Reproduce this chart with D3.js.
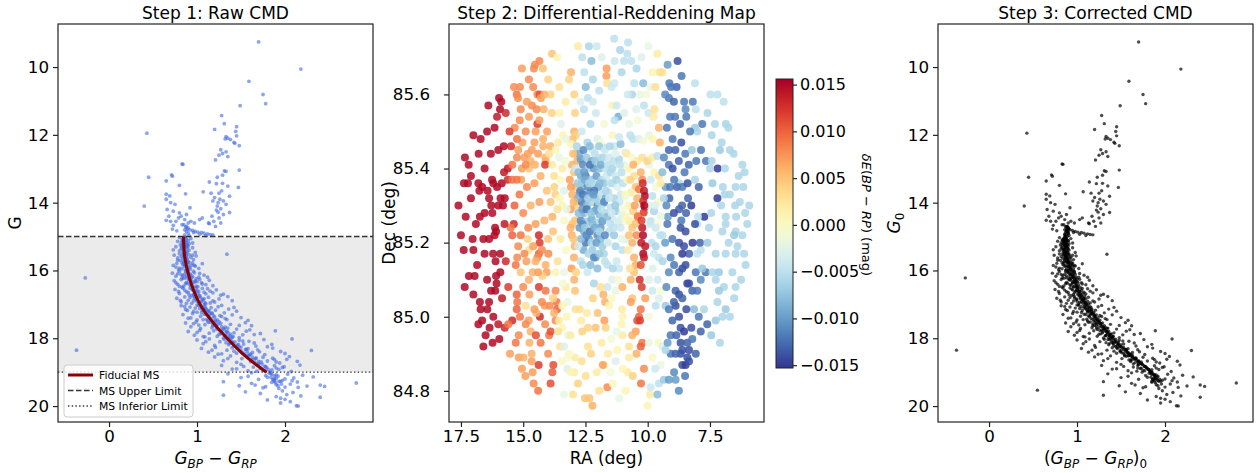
<!DOCTYPE html>
<html>
<head>
<meta charset="utf-8">
<script src="https://cdn.jsdelivr.net/npm/d3@7"></script>
<style>
body { margin: 0; background: #fff; }
text { font-family: "DejaVu Sans", sans-serif; }
</style>
</head>
<body>
<svg id="fig" width="1258" height="473"></svg>
<script>
// ---- data ----

// giants, subgiants, turnoff and odd outliers: [BP-RP, G]
var upperStars = [
	[1.70,9.26],[2.18,10.06],[1.59,10.42],[1.75,10.81],[1.78,11.08],[1.49,11.14],[1.28,11.43],[1.31,11.67],[1.45,11.76],[1.20,11.84],[1.44,11.90],[1.45,12.03],[1.33,12.05],[1.35,12.10],[1.32,12.12],[1.38,12.14],[1.42,12.22],[1.43,12.25],[1.48,12.32],
	[0.43,11.95],[0.45,13.25],[0.40,14.10],[0.83,12.86],[0.84,12.87],[0.71,13.18],[0.72,13.22],[0.65,13.36],[0.80,13.49],[0.87,13.74],[1.07,13.68],[1.14,13.39],
	[1.21,12.74],[1.25,12.60],[1.27,12.44],[1.29,12.55],[1.33,12.50],[1.35,12.64],[1.31,13.06],[1.33,13.08],[1.48,13.04],[1.47,13.55],[1.35,13.51],[1.29,13.19],[1.23,13.25],[1.22,13.44],[1.29,13.43],[1.28,13.65],[1.37,13.81],[1.37,14.29],[1.25,13.72],[1.26,13.90],[1.24,14.00],[1.23,14.10],[1.27,14.18],[1.22,14.22],[1.30,14.35],[1.25,14.45],[1.19,14.55],[1.27,14.60],[1.21,14.70],[1.33,14.05],[1.20,13.85],[1.30,13.95],[1.16,13.72],[1.18,13.95],[1.24,14.28],[1.17,14.40],[1.14,14.62],
	[0.65,13.75],[0.69,13.80],[0.65,13.90],[0.70,14.00],[0.75,14.05],[0.66,14.20],[0.73,14.25],[0.80,14.30],[0.79,14.45],[0.65,14.52],[0.70,14.55],[0.73,14.67],[0.83,14.65],[0.88,14.35],[0.92,14.15],[1.03,14.50],[0.97,14.60],[1.06,14.45],[1.13,14.60],[0.72,14.78],[0.77,14.83],[0.82,14.40],[0.76,14.55],[0.68,14.40],
	[0.87,14.72],[0.89,14.78],[0.92,14.80],[0.95,14.82],[0.98,14.85],[1.01,14.87],[1.05,14.88],[1.08,14.90],[1.12,14.92],[1.15,14.94],[1.18,14.95],[0.88,14.85],[0.90,14.90],[0.86,14.80],[0.88,14.70],[0.90,14.75],[0.86,14.95],[0.91,14.97],[0.85,14.65],[0.90,14.60],[0.93,14.55],[0.86,14.50],[1.10,14.97],[1.03,14.93],[0.96,14.88],
	[-0.27,16.22],[-0.37,18.35],[2.81,19.32],[0.55,19.53]
];

// main sequence, raw photometry: [BP-RP, G]
var msRaw = [
	[0.80,15.03],[0.83,15.10],[0.85,15.05],[0.86,15.15],[0.88,15.08],[0.84,15.20],[0.87,15.22],[0.90,15.12],[0.82,15.18],[0.86,15.02],[0.89,15.24],[0.93,15.06],[0.78,15.14],[0.95,15.19],[0.84,15.12],[0.87,15.04],
	[0.76,15.30],[0.80,15.42],[0.83,15.27],[0.85,15.36],[0.87,15.46],[0.88,15.31],[0.91,15.40],[0.84,15.48],[0.86,15.26],[0.82,15.35],[0.95,15.33],[0.89,15.44],[0.73,15.39],[0.98,15.47],[0.86,15.38],[0.90,15.28],
	[0.74,15.55],[0.78,15.63],[0.81,15.70],[0.84,15.52],[0.86,15.66],[0.88,15.58],[0.90,15.73],[0.93,15.61],[0.85,15.74],[0.87,15.54],[0.82,15.59],[0.96,15.68],[0.99,15.57],[0.89,15.65],[0.80,15.51],[0.91,15.53],[1.34,15.52],
	[0.73,15.85],[0.77,15.79],[0.80,15.93],[0.83,15.77],[0.86,15.88],[0.88,15.96],[0.90,15.82],[0.92,15.91],[0.95,15.78],[0.98,15.87],[0.87,15.99],[0.85,15.81],[0.91,15.76],[1.02,15.94],[0.79,15.98],[0.94,15.84],[1.06,15.80],
	[0.72,16.08],[0.76,16.17],[0.80,16.03],[0.83,16.22],[0.86,16.11],[0.89,16.05],[0.91,16.19],[0.93,16.13],[0.96,16.02],[0.99,16.24],[1.03,16.09],[0.88,16.16],[0.94,16.21],[1.08,16.14],[0.82,16.12],[0.97,16.07],[1.12,16.20],[0.90,16.01],[0.85,16.23],
	[0.74,16.30],[0.78,16.41],[0.82,16.27],[0.85,16.46],[0.88,16.35],[0.91,16.28],[0.93,16.44],[0.95,16.38],[0.98,16.31],[1.01,16.48],[1.05,16.36],[1.10,16.42],[0.92,16.26],[0.96,16.49],[1.14,16.29],[0.87,16.39],[1.00,16.33],[1.18,16.45],[0.80,16.47],[1.03,16.26],
	[0.75,16.56],[0.80,16.68],[0.84,16.52],[0.88,16.63],[0.91,16.72],[0.94,16.55],[0.97,16.66],[1.00,16.59],[1.03,16.74],[1.06,16.53],[1.10,16.69],[1.15,16.61],[1.22,16.57],[0.96,16.71],[0.99,16.51],[1.08,16.64],[1.30,16.70],[0.86,16.58],[1.02,16.62],[1.12,16.54],
	[0.77,16.82],[0.82,16.93],[0.86,16.78],[0.90,16.88],[0.94,16.97],[0.97,16.81],[1.00,16.91],[1.03,16.76],[1.06,16.86],[1.09,16.95],[1.13,16.79],[1.18,16.90],[1.25,16.84],[1.35,16.77],[1.02,16.99],[0.99,16.85],[1.15,16.96],[0.92,16.80],[1.05,16.92],[1.40,16.89],[1.08,16.83],
	[0.82,17.04],[0.87,17.15],[0.92,17.08],[0.96,17.21],[1.00,17.02],[1.03,17.12],[1.06,17.18],[1.09,17.06],[1.12,17.23],[1.16,17.10],[1.21,17.17],[1.28,17.03],[1.36,17.14],[1.05,17.24],[1.08,17.01],[1.13,17.19],[0.98,17.11],[1.45,17.20],[1.10,17.13],[1.24,17.07],
	[0.84,17.30],[0.90,17.41],[0.95,17.27],[1.00,17.46],[1.04,17.35],[1.08,17.29],[1.11,17.44],[1.14,17.37],[1.17,17.26],[1.21,17.48],[1.26,17.33],[1.32,17.42],[1.40,17.31],[1.50,17.39],[1.12,17.49],[1.15,17.28],[1.07,17.45],[1.19,17.34],[1.58,17.47],[1.28,17.36],
	[0.87,17.55],[0.93,17.66],[0.99,17.52],[1.04,17.71],[1.09,17.60],[1.13,17.53],[1.17,17.69],[1.20,17.62],[1.23,17.74],[1.27,17.56],[1.32,17.67],[1.38,17.59],[1.45,17.73],[1.55,17.54],[1.22,17.64],[1.25,17.51],[1.18,17.58],[1.30,17.72],[1.62,17.63],[1.02,17.61],[1.35,17.70],
	[0.90,17.80],[0.97,17.91],[1.03,17.77],[1.09,17.96],[1.14,17.85],[1.19,17.78],[1.23,17.94],[1.27,17.87],[1.30,17.99],[1.33,17.81],[1.37,17.92],[1.42,17.84],[1.48,17.98],[1.56,17.79],[1.65,17.89],[1.32,17.93],[1.28,17.76],[1.35,17.83],[1.89,17.78],[1.25,17.88],[1.40,17.97],[1.72,17.86],
	[1.00,18.05],[1.07,18.16],[1.14,18.02],[1.20,18.21],[1.26,18.10],[1.31,18.03],[1.36,18.19],[1.40,18.12],[1.44,18.24],[1.48,18.06],[1.53,18.17],[1.59,18.09],[1.67,18.23],[1.76,18.04],[1.41,18.14],[1.38,18.01],[1.46,18.20],[2.08,18.02],[1.33,18.13],[1.52,18.08],[1.85,18.18],
	[1.05,18.30],[1.13,18.41],[1.21,18.27],[1.28,18.46],[1.34,18.35],[1.40,18.28],[1.45,18.44],[1.50,18.37],[1.54,18.49],[1.58,18.31],[1.63,18.42],[1.69,18.34],[1.77,18.48],[1.86,18.29],[1.95,18.39],[1.51,18.43],[1.48,18.26],[1.56,18.33],[2.30,18.36],[1.42,18.38],[1.61,18.47],[2.00,18.45],
	[1.20,18.55],[1.30,18.66],[1.38,18.52],[1.45,18.71],[1.51,18.60],[1.56,18.53],[1.61,18.69],[1.65,18.62],[1.70,18.74],[1.75,18.56],[1.80,18.67],[1.86,18.59],[1.94,18.73],[2.05,18.54],[1.62,18.64],[1.58,18.51],[1.67,18.58],[1.73,18.70],[1.88,18.63],[2.14,18.68],
	[1.28,18.80],[1.40,18.91],[1.50,18.77],[1.58,18.96],[1.64,18.85],[1.70,18.78],[1.75,18.94],[1.79,18.87],[1.83,18.99],[1.88,18.81],[1.93,18.92],[1.99,18.84],[2.07,18.98],[2.17,18.79],[1.72,18.89],[1.77,18.83],[1.85,18.93],[1.90,18.88],[1.68,18.97],
	[1.35,19.05],[1.50,19.16],[1.62,19.02],[1.70,19.21],[1.78,19.10],[1.84,19.03],[1.88,19.19],[1.92,19.12],[1.97,19.24],[2.03,19.06],[2.10,19.17],[2.20,19.09],[2.32,19.14],[1.86,19.22],[1.90,19.08],[1.80,19.15],[2.00,19.20],
	[1.30,19.28],[1.48,19.40],[1.62,19.33],[1.75,19.46],[1.85,19.30],[1.90,19.37],[1.95,19.27],[2.00,19.44],[2.06,19.35],[2.14,19.29],[2.25,19.41],[2.40,19.38],[2.45,19.42],[1.88,19.26],[1.93,19.48],
	[1.30,19.68],[1.55,19.58],[1.72,19.63],[1.90,19.72],[1.97,19.55],[2.02,19.66],[2.09,19.60],[2.18,19.70],[2.40,19.74],[1.95,19.77],
	[1.80,19.82],[1.95,19.91],[2.00,19.80],[2.06,19.87],[2.13,19.99],[2.15,20.00]
];

// more main-sequence stars from the crowded part of the band: [BP-RP, G]
var msRawCrowd = [
	[0.84,15.09],[0.86,15.13],[0.88,15.17],[0.85,15.23],[0.87,15.29],[0.89,15.34],[0.84,15.41],[0.86,15.45],[0.88,15.49],[0.83,15.33],[0.91,15.21],[0.81,15.25],
	[0.85,15.56],[0.87,15.60],[0.84,15.64],[0.88,15.69],[0.86,15.72],[0.89,15.76],[0.84,15.83],[0.87,15.86],[0.90,15.90],[0.83,15.95],[0.92,15.97],[0.78,15.70],[0.76,15.90],[0.95,15.55],[0.97,15.85],
	[0.87,16.03],[0.90,16.07],[0.92,16.10],[0.84,16.15],[0.95,16.18],[0.88,16.22],[0.91,16.26],[0.94,16.31],[0.97,16.34],[0.89,16.38],[0.92,16.42],[0.99,16.46],[0.78,16.10],[0.76,16.36],[1.02,16.20],[1.06,16.40],[0.83,16.49],
	[0.92,16.52],[0.95,16.58],[0.98,16.61],[0.90,16.65],[1.01,16.68],[0.94,16.74],[0.97,16.77],[1.04,16.80],[1.00,16.84],[1.07,16.87],[0.96,16.90],[1.03,16.94],[1.10,16.98],[0.79,16.62],[0.81,16.88],[1.18,16.66],[1.20,16.93],[1.27,16.73],[0.88,16.97],
	[1.02,17.03],[1.05,17.07],[1.08,17.11],[1.11,17.15],[1.14,17.20],[1.00,17.23],[1.17,17.27],[1.10,17.30],[1.13,17.34],[1.20,17.38],[1.16,17.42],[1.23,17.46],[1.19,17.49],[0.89,17.18],[0.93,17.40],[1.31,17.25],[1.34,17.45],[1.42,17.09],[0.86,17.06],
	[1.15,17.52],[1.21,17.55],[1.24,17.59],[1.18,17.63],[1.28,17.66],[1.22,17.70],[1.31,17.73],[1.26,17.77],[1.34,17.80],[1.29,17.84],[1.38,17.88],[1.33,17.91],[1.41,17.95],[1.36,17.98],[0.96,17.57],[1.00,17.83],[1.48,17.62],[1.52,17.90],[1.60,17.75],[1.07,17.95],
	[1.35,18.04],[1.39,18.07],[1.43,18.11],[1.37,18.15],[1.47,18.18],[1.42,18.22],[1.50,18.26],[1.46,18.30],[1.55,18.33],[1.49,18.37],[1.57,18.41],[1.53,18.44],[1.60,18.48],[1.10,18.10],[1.17,18.35],[1.65,18.14],[1.71,18.40],[1.80,18.25],[1.24,18.47],
	[1.59,18.52],[1.63,18.56],[1.67,18.60],[1.61,18.64],[1.70,18.68],[1.66,18.72],[1.74,18.76],[1.69,18.80],[1.78,18.84],[1.73,18.88],[1.81,18.92],[1.77,18.96],[1.35,18.60],[1.45,18.90],[1.90,18.70],[1.97,18.86],[2.02,18.62],[1.53,18.83],
	[1.82,19.03],[1.85,19.07],[1.88,19.11],[1.84,19.15],[1.90,19.19],[1.87,19.23],[1.93,19.27],[1.89,19.31],[1.96,19.35],[1.92,19.40],[1.58,19.12],[1.66,19.38],[2.08,19.25],[2.15,19.45],[1.78,19.43]
];

// tight ridge of the corrected main sequence: [(BP-RP)0, G0]
var ridgeCorr = [
	[0.89,14.72],[0.90,14.76],[0.88,14.80],[0.89,14.84],[0.87,14.88],[0.90,14.91],[0.88,14.95],[0.87,14.98],[0.89,14.70],[0.91,14.78],[0.86,14.93],
	[0.87,15.02],[0.88,15.06],[0.86,15.10],[0.88,15.14],[0.87,15.18],[0.86,15.22],[0.88,15.26],[0.87,15.30],[0.89,15.34],[0.86,15.38],[0.88,15.42],[0.87,15.46],[0.89,15.49],
	[0.88,15.53],[0.87,15.57],[0.89,15.61],[0.89,15.65],[0.90,15.69],[0.89,15.73],[0.91,15.77],[0.91,15.81],[0.92,15.85],[0.91,15.89],[0.93,15.93],[0.93,15.97],
	[0.94,16.01],[0.93,16.05],[0.95,16.09],[0.95,16.13],[0.96,16.17],[0.96,16.21],[0.97,16.25],[0.97,16.29],[0.98,16.33],[0.98,16.37],[0.99,16.41],[0.99,16.45],[1.00,16.49],
	[1.01,16.53],[1.01,16.57],[1.03,16.61],[1.03,16.65],[1.04,16.69],[1.05,16.73],[1.06,16.77],[1.07,16.81],[1.07,16.85],[1.08,16.89],[1.09,16.93],[1.10,16.97],
	[1.11,17.01],[1.12,17.05],[1.13,17.09],[1.14,17.13],[1.16,17.17],[1.16,17.21],[1.18,17.25],[1.19,17.29],[1.20,17.33],[1.21,17.37],[1.21,17.41],[1.23,17.45],[1.24,17.49],
	[1.25,17.53],[1.27,17.57],[1.27,17.61],[1.29,17.65],[1.30,17.69],[1.32,17.73],[1.32,17.77],[1.34,17.81],[1.35,17.85],[1.37,17.89],[1.37,17.93],[1.39,17.97],
	[1.41,18.01],[1.42,18.05],[1.44,18.09],[1.45,18.13],[1.47,18.17],[1.48,18.21],[1.50,18.25],[1.52,18.29],[1.53,18.33],[1.55,18.37],[1.57,18.41],[1.58,18.45],[1.60,18.49],
	[1.62,18.53],[1.64,18.57],[1.66,18.61],[1.68,18.65],[1.69,18.69],[1.72,18.73],[1.74,18.77],[1.76,18.81],[1.78,18.85],[1.80,18.89],[1.82,18.93],[1.83,18.97],
	[1.85,19.01],[1.86,19.05],[1.88,19.09],[1.89,19.13],[1.88,19.18],[1.91,19.22],[1.86,19.20],[1.92,19.25],
	[0.90,14.74],[0.90,14.86],[0.89,15.00],[0.90,15.12],[0.89,15.24],[0.90,15.36],[0.90,15.48],
	[0.91,15.55],[0.92,15.63],[0.93,15.71],[0.94,15.79],[0.95,15.87],[0.96,15.95],
	[0.97,16.03],[0.98,16.11],[0.99,16.19],[1.00,16.27],[1.01,16.35],[1.02,16.43],
	[1.04,16.51],[1.05,16.59],[1.07,16.67],[1.09,16.75],[1.10,16.83],[1.12,16.91],[1.13,16.99],
	[1.15,17.07],[1.17,17.15],[1.19,17.23],[1.22,17.31],[1.24,17.39],[1.26,17.47],
	[1.29,17.55],[1.31,17.63],[1.34,17.71],[1.36,17.79],[1.39,17.87],[1.41,17.95],
	[1.44,18.03],[1.47,18.11],[1.50,18.19],[1.53,18.27],[1.56,18.35],[1.59,18.43],
	[1.63,18.51],[1.66,18.59],[1.70,18.67],[1.73,18.75],[1.77,18.83],[1.81,18.91],[1.85,18.99],
	[1.88,19.07],[1.91,19.15],[1.94,19.21],[1.85,19.27],
	[0.86,15.04],[0.85,15.16],[0.86,15.28],[0.85,15.40],[0.86,15.52],[0.87,15.64],[0.88,15.76],[0.89,15.88],[0.90,16.00],[0.92,16.12],[0.93,16.24],[0.95,16.36],[0.96,16.48],[0.99,16.60],[1.01,16.72],[1.04,16.84],[1.06,16.96],[1.09,17.08],[1.12,17.20],[1.15,17.32],[1.18,17.44],[1.22,17.56],[1.25,17.68],[1.29,17.80],[1.33,17.92],[1.37,18.04],[1.41,18.16],[1.45,18.28],[1.49,18.40],[1.54,18.52],[1.59,18.64],[1.64,18.76],[1.69,18.88],[1.74,19.00]
];

// fiducial main sequence: [BP-RP, G]
var fiducial = [[0.845,15.0],[0.86,15.6],[0.90,16.09],[0.96,16.58],[1.05,17.07],[1.19,17.56],[1.36,18.05],[1.56,18.55],[1.79,19.0]];

var msUpper = 15.0, msLower = 19.0;

// differential reddening map: [RA deg, Dec deg, dE(BP-RP) in mmag]
var mapPts = [
	[12.80,85.73,2],[12.36,85.73,-6],[10.79,85.74,-5],[11.11,85.72,-6],[10.82,85.71,-5],[9.97,85.73,-2],[9.61,85.71,2],[13.84,85.71,5],[13.63,85.70,1],[12.63,85.70,-5],[12.26,85.69,-8],[11.33,85.69,-4],[10.95,85.69,-5],[10.66,85.69,-5],[8.80,85.69,-14],[9.20,85.68,-10],[14.35,85.69,8],[14.53,85.68,8],[14.57,85.67,8],[15.05,85.67,7],[14.21,85.67,5],[11.65,85.67,7],[13.08,85.66,6],[9.52,85.66,3],[9.41,85.66,3],[8.64,85.65,-12],[14.77,85.64,8],[14.00,85.64,4],[13.16,85.64,4],[11.66,85.65,7],[11.63,85.63,3],[11.34,85.63,-4],[12.49,85.62,-8],[10.54,85.63,-5],[10.18,85.63,-8],[9.89,85.62,-2],[9.69,85.62,3],[9.13,85.63,-12],[8.84,85.62,-13],[8.10,85.63,-5],
	[15.37,85.62,8],[15.13,85.62,8],[15.26,85.60,9],[15.21,85.59,8],[15.97,85.59,15],[15.88,85.58,15],[15.93,85.56,15],[16.05,85.54,14],[14.43,85.60,8],[14.34,85.60,11],[14.29,85.59,7],[13.90,85.60,4],[14.65,85.57,8],[14.46,85.56,8],[14.18,85.56,6],[14.77,85.54,7],[15.14,85.53,8],[15.34,85.51,8],[14.43,85.52,12],[14.04,85.50,7],[14.55,85.47,7],[15.03,85.47,7],[15.20,85.45,7],[15.49,85.46,13],[15.78,85.46,15],[16.45,85.50,15],[17.00,85.49,15],[16.71,85.48,15],[16.79,85.44,15],[17.34,85.43,15],[17.19,85.41,15],[15.62,85.40,14],[15.44,85.41,9],[15.05,85.40,7],[15.08,85.37,7],[15.26,85.37,9],[14.81,85.44,7],[14.95,85.43,7],[14.71,85.42,6],[14.77,85.40,5],[14.53,85.41,6],[14.11,85.43,6],[14.10,85.42,6],[14.12,85.41,12],[13.91,85.46,6],[13.96,85.44,3],
	[13.54,85.55,1],[13.48,85.52,-3],[13.40,85.49,1],[12.92,85.55,4],[12.95,85.50,6],[12.89,85.49,4],[13.01,85.48,5],[12.92,85.44,6],[12.56,85.56,-5],[12.08,85.55,-4],[12.40,85.59,-5],[12.20,85.58,-4],[11.42,85.57,1],[11.25,85.57,-4],[11.18,85.54,-9],[11.33,85.53,-5],[10.75,85.52,-2],[10.40,85.53,-1],[10.46,85.56,-3],[10.15,85.57,-5],[9.97,85.55,-4],[10.31,85.60,-2],[10.63,85.60,-6],[9.77,85.54,2],[9.73,85.56,3],[9.55,85.51,6],[9.51,85.47,6],
	[9.23,85.51,-12],[9.10,85.54,-12],[8.90,85.54,-12],[9.15,85.59,-12],[9.06,85.62,-12],[8.54,85.58,-12],[8.19,85.58,-12],[8.45,85.54,-12],[8.48,85.56,-11],[8.07,85.56,-5],[7.81,85.52,-12],[8.10,85.51,-7],[8.01,85.50,-6],[7.43,85.49,-6],[7.03,85.47,-6],[6.86,85.52,-6],[6.76,85.51,-6],[6.70,85.45,-6],[7.48,85.60,-5],[9.15,85.45,-13],[8.89,85.45,-13],[8.49,85.44,-12],[8.23,85.45,-7],[7.86,85.45,-12],[7.66,85.42,-12],[7.43,85.42,-6],[7.19,85.40,-15],[9.15,85.41,-12],[8.52,85.39,-12],[8.74,85.36,-6],[8.10,85.37,-6],[8.94,85.37,-12],[9.28,85.35,-10],[9.10,85.35,-12],[8.82,85.35,-13],[8.61,85.35,-12],[9.13,85.32,-13],[8.38,85.32,-13],[8.25,85.30,-15],[8.62,85.30,-13],[8.74,85.29,-13],[8.46,85.28,-13],[9.19,85.27,-10],[8.65,85.26,-12],[7.73,85.27,-15],[7.20,85.32,-15],[6.98,85.35,-6],[6.91,85.33,-6],[6.47,85.35,-6],[6.16,85.35,-6],[6.20,85.41,-6],[6.11,85.39,-6],[6.49,85.30,-6],[6.09,85.28,-6],[5.92,85.30,-6],[6.87,85.27,-6],[6.45,85.27,-6],[7.98,85.27,-5],
	[17.38,85.36,15],[17.22,85.36,15],[16.80,85.36,15],[16.65,85.35,15],[16.76,85.34,15],[16.43,85.34,15],[16.25,85.37,15],[16.20,85.36,15],[16.05,85.35,15],[15.86,85.36,15],[16.37,85.32,15],[15.91,85.32,15],[15.74,85.32,15],[16.00,85.30,15],[15.81,85.30,15],[16.28,85.30,15],[16.24,85.28,15],[17.31,85.27,15],[16.74,85.27,15],[15.62,85.37,13],[15.44,85.37,9],[15.77,85.39,14],
	[13.70,85.45,1],[13.56,85.43,-2],[13.83,85.41,2],[13.43,85.40,2],[13.76,85.38,3],[13.50,85.37,0],[13.36,85.34,-3],[13.70,85.33,4],[13.90,85.31,5],[13.43,85.30,1],[13.63,85.29,3],[13.83,85.27,6],[13.36,85.26,0],
	[13.05,85.41,6],[12.96,85.39,5],[13.13,85.37,7],[12.89,85.35,5],[13.03,85.33,6],[12.85,85.30,4],[13.09,85.29,7],[12.92,85.26,5],[12.83,85.42,6],
	[12.69,85.425,-10],[12.46,85.43,-7],[12.25,85.42,-9],[12.02,85.43,-5],[11.80,85.43,-6],[12.60,85.41,-11],[12.38,85.40,-6],[12.16,85.40,-10],[11.93,85.40,-8],[11.71,85.40,-5],[12.68,85.38,-9],[12.49,85.38,-12],[12.28,85.37,-7],[12.06,85.38,-10],[11.85,85.37,-6],[11.66,85.38,-4],[12.63,85.36,-8],[12.42,85.35,-11],[12.20,85.36,-6],[11.98,85.35,-9],[11.76,85.36,-7],[12.73,85.335,-10],[12.52,85.33,-6],[12.30,85.335,-11],[12.09,85.32,-8],[11.88,85.33,-5],[11.69,85.32,-9],[12.65,85.31,-12],[12.44,85.30,-8],[12.22,85.31,-6],[12.01,85.30,-11],[11.80,85.305,-7],[12.56,85.28,-9],[12.36,85.28,-5],[12.14,85.285,-10],[11.93,85.275,-8],[11.71,85.28,-6],[12.69,85.26,-11],[12.46,85.257,-7],[12.25,85.263,-9],[12.04,85.254,-6],[11.82,85.258,-10],
	[11.55,85.43,-4],[11.35,85.42,-5],[11.15,85.425,-6],[10.95,85.41,-2],[11.49,85.39,-6],[11.29,85.38,-4],[11.05,85.39,-5],[11.42,85.36,-7],[11.22,85.35,-3],[10.99,85.36,-5],[11.58,85.335,-5],[11.35,85.32,-6],[11.13,85.31,-4],[10.91,85.326,-2],[11.49,85.295,-5],[11.29,85.285,-7],[11.05,85.276,-3],[11.42,85.263,-4],[11.15,85.254,-5],[10.95,85.258,-1],
	[10.75,85.40,1],[10.55,85.38,3],[10.82,85.37,0],[10.48,85.35,5],[10.68,85.335,2],[10.42,85.32,6],[10.78,85.30,1],[10.59,85.285,4],[10.38,85.272,7],[10.72,85.258,2],[10.48,85.251,5],[10.64,85.43,-1],[10.42,85.42,2],[10.28,85.39,6],[10.22,85.37,8],[10.35,85.344,9],
	[10.15,85.34,14],[10.11,85.326,15],[10.18,85.312,13],[10.12,85.296,15],[10.16,85.281,12],
	[9.95,85.41,-2],[9.75,85.39,1],[9.55,85.38,3],[9.88,85.37,-4],[9.68,85.35,-1],[9.48,85.36,2],[9.81,85.326,-5],[9.57,85.31,0],[9.97,85.30,-3],[9.75,85.285,-6],[9.48,85.272,-2],[9.88,85.258,-5],[9.61,85.25,-1],[9.41,85.39,-8],[9.35,85.32,-6],
	[12.42,85.47,-6],[12.02,85.48,-3],[11.76,85.457,-5],[11.33,85.46,-4],[11.09,85.466,-8],[10.89,85.443,-3],[10.59,85.48,-5],[10.35,85.48,-3],[10.18,85.475,-1],[9.95,85.49,-2],[9.81,85.48,1],[12.22,85.45,-4],[11.89,85.47,-1],[11.42,85.49,0],[11.15,85.485,-4],[10.22,85.43,3],[10.01,85.42,4],[9.81,85.43,2],[9.61,85.434,-5],[13.09,85.466,1],[13.29,85.48,-2],
	[17.39,85.18,15],[17.00,85.18,15],[17.03,85.21,15],[16.55,85.17,15],[16.21,85.17,15],[15.92,85.17,15],[16.15,85.22,15],[16.09,85.23,15],[16.13,85.24,15],[16.37,85.21,15],[16.11,85.15,15],[17.18,85.11,15],[16.95,85.11,15],[16.09,85.11,15],[15.92,85.12,15],[16.29,85.07,15],[16.12,85.07,15],[16.07,85.09,15],[17.00,85.06,15],[16.74,85.04,15],[16.37,85.04,15],[16.71,85.02,15],[16.44,85.02,15],[16.65,84.99,15],[16.00,84.98,14],[16.51,84.95,15],[15.96,84.94,15],[16.23,84.93,15],[15.44,84.99,13],[15.74,84.97,13],[15.38,85.25,13],[15.60,84.98,9],
	[15.50,85.24,9],[15.44,85.22,10],[15.20,85.19,8],[15.24,85.16,8],[14.87,85.15,7],[14.62,85.12,6],[14.77,85.10,6],[15.26,85.06,10],[15.24,85.04,9],[15.26,85.02,10],[15.13,85.00,9],[14.78,84.99,7],[14.70,84.96,6],[14.49,84.95,11],[15.18,84.95,8],[15.53,84.90,7],[15.18,84.89,7],[14.99,84.89,6],[14.66,84.90,6],[14.66,84.88,7],[14.91,84.84,7],[14.62,84.85,7],[14.58,84.82,8],[14.38,84.87,12],[13.83,84.85,10],[13.90,84.82,11],[13.79,84.87,11],[14.37,85.17,10],[14.34,85.20,12],[14.43,85.16,8],[14.37,85.22,13],[13.99,85.17,8],[14.06,85.12,7],[14.37,85.08,12],[14.10,85.07,9],[13.70,85.07,8],[13.66,85.04,9],[14.14,85.03,7],[13.94,85.03,8],[13.64,85.02,10],[13.76,85.01,6],[14.33,85.00,13],[14.12,84.98,8],[13.96,84.95,9],[13.90,84.96,11],[13.70,84.99,8],[14.47,85.01,6],[14.82,85.21,4],[14.77,85.18,3],[14.50,85.15,6],[15.10,85.12,5],[14.23,85.11,4],[14.90,85.03,3],
	[13.70,85.12,1],[13.36,85.12,-2],[13.29,85.08,2],[13.21,85.04,-2],[13.43,85.03,1],[13.56,84.99,2],[13.43,84.97,1],[13.52,84.92,3],[13.36,84.92,-3],[13.23,84.89,-1],[12.92,84.89,2],[12.96,84.85,2],[12.73,85.02,3],[12.67,84.99,2],[12.63,84.96,4],[12.44,85.01,2],[12.40,84.97,4],[12.09,84.97,5],[12.28,84.90,4],[12.49,84.84,3],[12.05,84.85,2],[11.73,84.87,1],[12.52,84.78,5],[12.22,84.76,6],[12.34,84.78,5],[13.36,84.79,-2],[13.23,84.86,-3],[13.09,84.85,1],[13.16,84.90,0],
	[12.95,85.10,6],[12.92,85.07,5],[12.96,85.16,6],[12.93,85.19,6],[13.05,85.22,6],[13.03,85.25,5],[11.78,85.06,6],[11.71,85.04,6],[11.74,84.99,7],[11.69,84.97,4],[11.80,84.87,7],[11.62,84.81,8],[12.01,85.01,5],
	[12.56,85.23,-9],[12.36,85.21,-10],[12.22,85.18,-7],[12.02,85.22,-11],[12.09,85.16,-9],[11.89,85.21,-8],[12.49,85.20,-12],[12.16,85.09,-6],[12.02,85.13,-8],[11.76,85.17,-6],[11.62,85.14,-5],[12.69,85.15,-5],[12.42,85.12,-4],[12.62,85.25,-11],[12.22,85.25,-8],[11.89,85.24,-10],
	[11.55,85.23,-5],[11.29,85.19,-6],[11.15,85.13,-4],[11.02,85.18,-5],[11.42,85.10,-3],[11.62,85.08,-4],[11.29,85.07,-2],[11.35,85.22,-7],[11.09,85.24,-4],[10.89,85.21,-3],
	[11.55,85.03,1],[11.03,85.02,2],[11.05,84.98,1],[11.02,84.95,2],[11.46,84.94,-1],[11.22,84.91,1],[10.75,84.92,3],[11.29,84.88,-3],[10.75,84.89,2],[11.49,84.85,-1],[11.15,84.78,-2],[10.80,84.85,2],
	[11.02,85.08,6],[10.62,85.05,5],[10.68,85.04,7],[10.28,85.02,9],[10.48,84.96,7],[10.22,84.93,9],[10.28,84.92,10],[10.27,84.82,9],[10.62,84.95,6],[10.42,84.99,11],[10.35,85.00,10],[10.68,85.10,6],[10.55,85.12,5],[10.48,85.14,6],[10.75,85.22,5],[10.62,85.20,6],
	[10.26,85.20,14],[10.18,85.17,15],[10.15,85.16,14],[10.32,85.10,13],[10.24,85.08,12],[10.31,84.99,12],[10.22,85.24,14],
	[9.84,85.20,-5],[9.68,85.19,-6],[9.55,85.16,-5],[9.75,85.17,-4],[9.95,85.10,-3],[9.81,85.07,-4],[9.68,85.03,-5],[9.28,85.03,-7],[9.55,85.05,-3],[9.48,85.07,-1],[9.88,84.81,-4],[9.55,84.82,-5],[9.35,84.83,-7],
	[9.95,85.00,-1],[9.57,84.93,0],[9.41,84.92,-3],[9.81,84.89,0],[9.48,84.87,-2],[10.01,84.76,1],[9.91,84.79,2],[9.61,84.79,-8],
	[9.21,85.25,-12],[8.68,85.24,-14],[8.48,85.23,-14],[9.01,85.21,-12],[8.74,85.20,-14],[8.54,85.19,-14],[8.34,85.17,-13],[8.61,85.17,-15],[9.08,85.16,-11],[8.94,85.14,-12],[8.74,85.12,-13],[8.61,85.13,-14],[8.48,85.14,-14],[9.15,85.12,-11],[8.41,85.09,-15],[8.34,85.09,-14],[8.88,85.07,-13],[8.74,85.06,-14],[8.61,85.05,-13],[9.15,85.02,-12],[8.88,85.03,-14],[9.01,84.99,-13],[8.74,85.00,-14],[8.68,84.97,-14],[8.54,84.96,-15],[9.08,84.95,-12],[8.68,84.93,-14],[8.61,84.91,-14],[8.41,84.93,-13],[8.34,84.91,-14],[8.07,84.90,-13],[8.21,84.94,-12],[7.87,84.96,-13],[8.68,84.90,-14],[9.08,84.90,-12],[8.88,84.90,-13],[8.61,84.87,-14],[8.48,84.87,-15],[8.34,84.88,-14],[8.94,84.85,-11],[8.88,84.83,-10],[9.15,84.83,-10],[8.07,85.12,-12],[8.21,85.07,-13],[7.67,85.12,-12],[7.87,85.10,-11],[8.01,85.07,-12],[7.61,84.98,-13],[8.41,84.89,-14],
	[8.01,85.25,-5],[7.54,85.24,-6],[6.87,85.25,-6],[6.47,85.23,-6],[6.20,85.22,-6],[6.53,85.22,-7],[7.00,85.23,-6],[7.27,85.17,-6],[6.87,85.17,-6],[6.47,85.17,-6],[6.13,85.17,-6],[6.40,85.19,-6],[6.07,85.14,-6],[7.87,85.18,-5],[7.81,85.13,-7],[7.40,85.12,-6],[7.14,85.12,-7],[6.60,85.12,-6],[7.27,85.10,-6],[6.94,85.08,-6],[6.47,85.08,-6],[7.14,85.07,-7],[7.20,85.04,-6],[7.00,85.00,-6],[6.53,85.05,-6],[7.27,84.99,-7],[7.74,85.02,-6],[6.87,85.02,-7],[9.28,84.91,-6],[8.14,85.02,-8],[8.01,85.17,-5],[9.68,85.24,-4],[9.41,85.22,-5]
];

// second pass over the map, filling the crowded areas: [RA deg, Dec deg, dE in mmag]
var mapPtsCrowd = [
	[12.85,85.46,-6],[12.75,85.44,-9],[12.58,85.45,-11],[12.33,85.46,-8],[12.12,85.44,-5],[11.95,85.46,-7],[11.72,85.45,-4],[11.52,85.46,-6],
	[12.90,85.40,-4],[12.78,85.39,-8],[12.55,85.39,-10],[12.32,85.41,-12],[12.10,85.42,-7],[11.88,85.41,-9],[11.60,85.41,-5],[11.42,85.40,-6],
	[12.82,85.36,-7],[12.70,85.34,-11],[12.52,85.37,-9],[12.36,85.36,-6],[12.15,85.34,-12],[11.92,85.36,-8],[11.68,85.34,-6],[11.50,85.36,-5],
	[12.80,85.32,-9],[12.60,85.33,-12],[12.40,85.32,-7],[12.18,85.33,-10],[11.96,85.31,-6],[11.75,85.31,-11],[11.55,85.32,-4],
	[12.78,85.28,-8],[12.62,85.29,-10],[12.45,85.29,-12],[12.26,85.28,-7],[12.05,85.29,-9],[11.86,85.29,-5],[11.62,85.27,-8],[11.45,85.28,-4],
	[12.74,85.24,-10],[12.52,85.24,-7],[12.32,85.23,-12],[12.12,85.24,-9],[11.94,85.23,-6],[11.72,85.22,-11],[11.50,85.25,-5],
	[12.68,85.21,-8],[12.46,85.22,-11],[12.26,85.20,-6],[12.06,85.20,-10],[11.82,85.19,-7],[11.60,85.20,-4],
	[12.58,85.18,-9],[12.38,85.17,-6],[12.16,85.16,-11],[11.94,85.17,-7],[11.72,85.15,-5],[12.80,85.19,-4],[12.60,85.14,-6],[12.30,85.14,-8],
	[11.30,85.44,-3],[11.12,85.41,-5],[11.25,85.37,-6],[11.08,85.33,-4],[11.30,85.30,-7],[11.20,85.26,-3],[11.38,85.24,-5],[11.05,85.21,-2],[11.25,85.15,-4],[11.40,85.13,-6],[10.98,85.29,-1],
	[10.85,85.44,2],[10.70,85.37,4],[10.58,85.41,6],[10.90,85.33,0],[10.52,85.30,7],[10.85,85.27,1],[10.62,85.24,5],[10.45,85.22,8],[10.80,85.18,2],[10.55,85.16,6],[10.40,85.27,9],[10.72,85.13,3],
	[10.20,85.36,13],[10.14,85.30,15],[10.25,85.26,12],[10.19,85.22,15],[10.10,85.19,14],[10.28,85.14,11],
	[13.00,85.44,5],[13.08,85.35,7],[12.97,85.31,6],[13.10,85.24,6],[12.98,85.21,5],[13.06,85.13,7],[12.88,85.12,4],
	[13.60,85.47,2],[13.30,85.42,-1],[13.75,85.35,4],[13.55,85.32,1],[13.25,85.29,-2],[13.80,85.23,5],[13.50,85.21,2],[13.28,85.18,0],[13.62,85.15,3],[13.40,85.09,-1],[13.80,85.05,4],[13.25,85.00,1],[13.60,84.96,3],[13.45,84.88,0],[13.20,84.95,-2],
	[14.20,85.46,6],[14.40,85.44,7],[14.65,85.45,7],[14.90,85.41,8],[15.25,85.43,8],[14.30,85.38,6],[14.55,85.36,7],[14.85,85.35,8],[15.15,85.33,9],[14.05,85.34,5],[14.35,85.31,7],[14.70,85.30,6],[15.00,85.28,8],[15.35,85.30,10],[14.15,85.26,6],[14.50,85.25,7],[14.80,85.24,8],[15.10,85.22,9],[14.00,85.21,5],[14.25,85.18,8],[14.60,85.19,7],[14.95,85.17,8],[15.30,85.14,9],[14.10,85.14,6],[14.40,85.12,7],[14.75,85.06,7],[15.00,85.08,8],[14.25,85.04,8],[14.55,85.02,7],[14.90,84.98,8],[14.30,84.93,9],[14.00,84.90,8],[14.75,84.93,6],[15.30,84.93,9],[14.40,84.80,9],[15.05,84.86,7],[14.15,85.60,6],[14.60,85.62,8],[14.85,85.58,7],[15.10,85.56,8],[14.35,85.53,7],[14.90,85.50,8],[15.25,85.48,9],[14.50,85.50,7],[14.20,85.48,6],
	[17.60,85.30,15],[17.50,85.22,15],[17.10,85.32,15],[16.90,85.25,15],[16.55,85.28,15],[16.60,85.21,15],[16.85,85.14,15],[16.45,85.10,15],[17.35,85.08,15],[16.80,84.98,15],[16.35,84.97,15],[16.60,84.92,15],[16.20,85.00,15],[15.85,85.05,14],[15.75,85.25,14],[15.70,85.15,13],[16.00,85.45,15],[16.30,85.44,15],[16.55,85.40,15],[16.15,85.51,15],[16.40,85.57,15],[15.70,85.55,13],[15.55,85.50,12],[17.10,85.38,15],[15.60,85.08,12],
	[9.30,85.60,-11],[8.95,85.58,-13],[8.70,85.52,-13],[8.30,85.50,-12],[9.00,85.48,-12],[8.65,85.47,-14],[9.35,85.43,-11],[8.35,85.41,-13],[8.05,85.42,-12],[9.00,85.40,-14],[8.75,85.42,-13],[7.95,85.35,-13],[8.40,85.36,-14],[9.25,85.30,-11],[8.95,85.28,-14],[8.10,85.25,-14],[7.90,85.20,-13],[9.30,85.20,-10],[8.20,85.20,-15],[9.25,85.08,-11],[8.95,85.04,-13],[8.45,85.02,-14],[7.95,85.00,-12],[8.25,84.97,-14],[8.85,84.95,-13],[9.20,84.93,-10],[8.50,84.84,-12],[8.75,84.80,-11],
	[7.60,85.55,-6],[7.30,85.52,-6],[7.10,85.45,-7],[6.90,85.40,-6],[6.55,85.44,-6],[6.35,85.38,-6],[7.40,85.36,-7],[7.05,85.30,-6],[6.70,85.33,-6],[6.30,85.31,-6],[6.00,85.25,-6],[7.45,85.28,-6],[7.60,85.20,-7],[6.75,85.20,-6],[6.25,85.10,-6],[6.70,85.00,-6],[7.45,84.95,-7],[7.10,84.93,-6],[7.50,85.40,-6],[6.95,85.58,-5],[7.20,85.60,-5],
	[12.95,85.60,4],[12.70,85.58,-3],[12.55,85.66,-5],[12.20,85.64,-6],[11.95,85.61,-5],[11.85,85.70,-3],[11.45,85.62,-4],[11.05,85.66,-6],[10.80,85.60,-4],[10.45,85.67,-6],[10.25,85.70,-3],[10.05,85.60,-1],[9.80,85.66,1],[11.75,85.52,-1],[12.30,85.52,-6],[12.65,85.50,-4],[10.95,85.55,-3],[10.70,85.49,-5],[13.30,85.58,2],[13.55,85.62,3],[13.85,85.55,4],[12.05,85.73,-4],[11.35,85.75,-5],
	[12.80,84.82,4],[12.65,84.88,3],[11.95,84.80,3],[11.85,84.93,2],[11.40,84.82,0],[11.25,84.96,-2],[11.00,84.86,1],[10.60,84.84,4],[10.45,84.90,6],[10.15,84.86,8],[9.95,84.93,-2],[9.70,84.86,-4],[13.00,84.79,3],[12.40,84.92,3],[11.60,84.90,2],[10.90,84.80,1],[13.10,84.95,2],[12.90,85.02,3],[12.20,85.05,4],[11.90,85.08,3],[11.45,85.05,0],[11.20,85.10,-1],[11.00,85.00,1],[10.10,85.05,7],[9.80,85.13,-3],[9.60,85.10,-4],[9.40,85.15,-6],[9.90,85.25,-4],[9.70,85.30,-3],[9.50,85.22,-5]
];

var cmdXTicks = [0, 1, 2];
var cmdYTicks = [10, 12, 14, 16, 18, 20];
var raTicks = [17.5, 15.0, 12.5, 10.0, 7.5];
var decTicks = [84.8, 85.0, 85.2, 85.4, 85.6];
var cbarTicks = [-0.015, -0.010, -0.005, 0.000, 0.005, 0.010, 0.015];
var cbarRange = [-0.0153, 0.0156];

// ---- drawing ----
var svg = d3.select('#fig');
var AX_TOP = 24, AX_BOT = 422;
var INK = '#222';

function styleAxis(g, size) {
	g.select('.domain').remove();
	g.selectAll('.tick line').attr('stroke', INK).attr('stroke-width', 1.2);
	g.selectAll('.tick text').attr('fill', '#000')
		.style('font-family', '"DejaVu Sans", sans-serif').style('font-size', (size || 16.7) + 'px');
}

function frame(l, r) {
	svg.append('rect').attr('x', l).attr('y', AX_TOP).attr('width', r - l).attr('height', AX_BOT - AX_TOP)
		.attr('fill', 'none').attr('stroke', INK).attr('stroke-width', 1.2);
}

function clip(id, l, r) {
	svg.append('clipPath').attr('id', id).append('rect')
		.attr('x', l).attr('y', AX_TOP).attr('width', r - l).attr('height', AX_BOT - AX_TOP);
}

function title(cx, txt) {
	svg.append('text').attr('x', cx).attr('y', 19).attr('text-anchor', 'middle')
		.style('font-size', '17px').text(txt);
}

// math-ish label built from pieces [text, italic, sub]
function mathLabel(sel, parts, size) {
	var shift = 0;
	parts.forEach(function(p) {
		var want = p[2] ? 3.5 : 0;
		var t = sel.append('tspan').text(p[0]).attr('dy', want - shift)
			.style('font-size', (p[2] ? size * 0.7 : size) + 'px');
		if (p[1]) t.style('font-style', 'italic');
		shift = want;
	});
}

function cmdPanel(l, r, clipId, ttl) {
	var x = d3.scaleLinear().domain([-0.58, 3.0]).range([l, r]);
	var y = d3.scaleLinear().domain([8.73, 20.47]).range([AX_TOP, AX_BOT]);
	clip(clipId, l, r);
	title((l + r) / 2, ttl);
	svg.append('g').attr('transform', 'translate(0,' + AX_BOT + ')')
		.call(d3.axisBottom(x).tickValues(cmdXTicks).tickFormat(d3.format('d')).tickSize(5).tickPadding(3))
		.call(styleAxis);
	svg.append('g').attr('transform', 'translate(' + l + ',0)')
		.call(d3.axisLeft(y).tickValues(cmdYTicks).tickFormat(d3.format('d')).tickSize(5).tickPadding(4))
		.call(styleAxis);
	return {x: x, y: y, g: svg.append('g').attr('clip-path', 'url(#' + clipId + ')')};
}

var allMS = msRaw.concat(msRawCrowd);

// Panel 1: raw CMD
var p1 = cmdPanel(58, 373, 'c1', 'Step 1: Raw CMD');
p1.g.append('rect').attr('x', 58).attr('width', 315)
	.attr('y', p1.y(msUpper)).attr('height', p1.y(msLower) - p1.y(msUpper)).attr('fill', '#ebebeb');
p1.g.selectAll('circle.raw').data(upperStars.concat(allMS)).join('circle')
	.attr('cx', d => p1.x(d[0])).attr('cy', d => p1.y(d[1])).attr('r', 1.9)
	.attr('fill', '#4169e1').attr('fill-opacity', 0.6);
p1.g.append('line').attr('x1', 58).attr('x2', 373).attr('y1', p1.y(msUpper)).attr('y2', p1.y(msUpper))
	.attr('stroke', '#333').attr('stroke-width', 1.4).attr('stroke-dasharray', '5.5,2.5');
p1.g.append('line').attr('x1', 58).attr('x2', 373).attr('y1', p1.y(msLower)).attr('y2', p1.y(msLower))
	.attr('stroke', '#333').attr('stroke-width', 1.4).attr('stroke-dasharray', '1.4,2.3');
p1.g.append('path').datum(fiducial)
	.attr('d', d3.line().x(d => p1.x(d[0])).y(d => p1.y(d[1])).curve(d3.curveCatmullRom))
	.attr('fill', 'none').attr('stroke', '#8b0000').attr('stroke-width', 3);
frame(58, 373);

// legend
var lg = svg.append('g');
lg.append('rect').attr('x', 64).attr('y', 365).attr('width', 129).attr('height', 52).attr('rx', 3)
	.attr('fill', '#fff').attr('fill-opacity', 0.8).attr('stroke', '#ccc');
[['Fiducial MS', '#8b0000', 3, null], ['MS Upper Limit', '#333', 1.4, '5.5,2.5'], ['MS Inferior Limit', '#333', 1.4, '1.4,2.3']]
	.forEach(function(e, i) {
		var yy = 375 + i * 15.5;
		var ln = lg.append('line').attr('x1', 68).attr('x2', 93).attr('y1', yy).attr('y2', yy)
			.attr('stroke', e[1]).attr('stroke-width', e[2]);
		if (e[3]) ln.attr('stroke-dasharray', e[3]);
		lg.append('text').attr('x', 99).attr('y', yy + 4).style('font-size', '10.8px').text(e[0]);
	});

var xl1 = svg.append('text').attr('x', 215.5).attr('y', 464).attr('text-anchor', 'middle').style('font-size', '17px');
mathLabel(xl1, [['G', 1, 0], ['BP', 1, 1], [' \u2212 ', 0, 0], ['G', 1, 0], ['RP', 1, 1]], 17);
svg.append('text').attr('transform', 'translate(21,223) rotate(-90)').attr('text-anchor', 'middle')
	.style('font-size', '17px').text('G');

// Panel 3: corrected CMD
var p3 = cmdPanel(938, 1253, 'c3', 'Step 3: Corrected CMD');
p3.g.selectAll('circle.cor').data(upperStars.concat(allMS, ridgeCorr)).join('circle')
	.attr('cx', d => p3.x(d[0])).attr('cy', d => p3.y(d[1])).attr('r', 1.7)
	.attr('fill', '#000').attr('fill-opacity', 0.7);
frame(938, 1253);
var xl3 = svg.append('text').attr('x', 1095.5).attr('y', 464).attr('text-anchor', 'middle').style('font-size', '17px');
mathLabel(xl3, [['(', 0, 0], ['G', 1, 0], ['BP', 1, 1], [' \u2212 ', 0, 0], ['G', 1, 0], ['RP', 1, 1], [')', 0, 0], ['0', 0, 1]], 17);
var yl3 = svg.append('text').attr('transform', 'translate(900,223) rotate(-90)').attr('text-anchor', 'middle').style('font-size', '17px');
mathLabel(yl3, [['G', 1, 0], ['0', 0, 1]], 17);

// Panel 2: reddening map
var x2 = d3.scaleLinear().domain([17.98, 5.33]).range([449, 764]);
var y2 = d3.scaleLinear().domain([84.716, 85.79]).range([AX_BOT, AX_TOP]);
var cval = d3.scaleLinear().domain(cbarRange).range([1, 0]).clamp(true);
var cmap = v => d3.interpolateRdYlBu(cval(v));
clip('c2', 449, 764);
title(606.5, 'Step 2: Differential-Reddening Map');
svg.append('g').attr('clip-path', 'url(#c2)').selectAll('circle').data(mapPts.concat(mapPtsCrowd)).join('circle')
	.attr('cx', d => x2(d[0])).attr('cy', d => y2(d[1])).attr('r', 4)
	.attr('fill', d => cmap(d[2] / 1000)).attr('fill-opacity', 0.85);
svg.append('g').attr('transform', 'translate(0,' + AX_BOT + ')')
	.call(d3.axisBottom(x2).tickValues(raTicks).tickFormat(d3.format('.1f')).tickSize(5).tickPadding(3))
	.call(styleAxis);
svg.append('g').attr('transform', 'translate(449,0)')
	.call(d3.axisLeft(y2).tickValues(decTicks).tickFormat(d3.format('.1f')).tickSize(5).tickPadding(14))
	.call(styleAxis);
frame(449, 764);
svg.append('text').attr('x', 606.5).attr('y', 464).attr('text-anchor', 'middle').style('font-size', '17px').text('RA (deg)');
svg.append('text').attr('transform', 'translate(395,223) rotate(-90)').attr('text-anchor', 'middle')
	.style('font-size', '17px').text('Dec (deg)');

// colorbar
var cb = d3.scaleLinear().domain(cbarRange).range([368, 79]);
var grad = svg.append('defs').append('linearGradient').attr('id', 'cbg')
	.attr('x1', 0).attr('y1', 1).attr('x2', 0).attr('y2', 0);
d3.range(0, 1.0001, 0.05).forEach(function(t) {
	grad.append('stop').attr('offset', t).attr('stop-color', d3.interpolateRdYlBu(1 - t));
});
svg.append('rect').attr('x', 776).attr('y', 79).attr('width', 17).attr('height', 289)
	.attr('fill', 'url(#cbg)').attr('stroke', INK).attr('stroke-width', 1);
svg.append('g').attr('transform', 'translate(793,0)')
	.call(d3.axisRight(cb).tickValues(cbarTicks).tickFormat(d3.format('.3f')).tickSize(4).tickPadding(3))
	.call(g => styleAxis(g, 16));
var cbl = svg.append('text').attr('transform', 'translate(862,215) rotate(90)').attr('text-anchor', 'middle')
	.style('font-size', '13px');
mathLabel(cbl, [['\u03b4E', 1, 0], ['(', 0, 0], ['BP', 1, 0], [' \u2212 ', 0, 0], ['RP', 1, 0], [')', 0, 0], [' (mag)', 0, 0]], 13);
</script>
</body>
</html>
